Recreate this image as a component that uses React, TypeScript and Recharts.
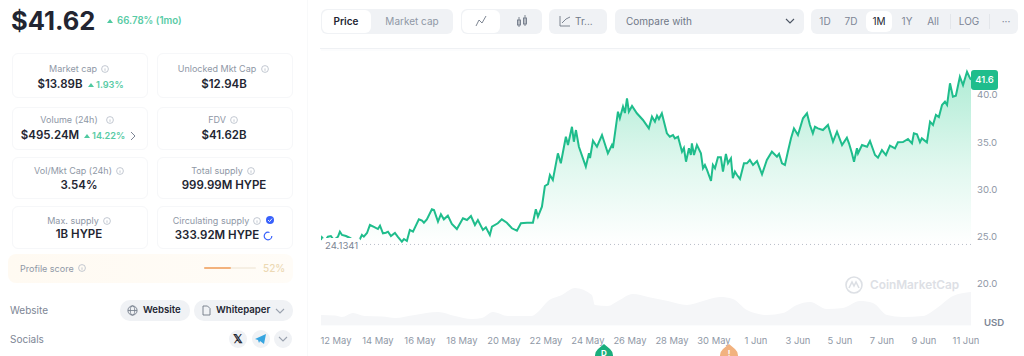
import React from "react";
import {
  Area,
  CartesianGrid,
  ComposedChart,
  ReferenceLine,
  XAxis,
  YAxis,
} from "recharts";

// days counted from 12 May
const priceDays = [
  -0.71, -0.67, -0.52, -0.38, -0.24, -0.1, 0.1, 0.19, 0.29, 0.48, 0.67, 0.9, 1.14, 1.24, 1.33, 1.48, 1.62, 1.81, 2.0,
  2.1, 2.24, 2.38, 2.48, 2.62, 2.81, 2.95, 3.14, 3.24, 3.38, 3.52, 3.67, 3.95, 4.1, 4.19, 4.33, 4.57, 4.67, 4.86, 5.0,
  5.14, 5.33, 5.52, 5.76, 6.05, 6.24, 6.43, 6.62, 6.76, 7.0, 7.14, 7.33, 7.43, 7.71, 7.9, 8.14, 8.38, 8.62, 8.81, 9.1,
  9.38, 9.52, 9.62, 9.81, 9.95, 10.1, 10.19, 10.33, 10.57, 10.71, 10.95, 11.05, 11.24, 11.33, 11.43, 11.57, 11.9, 12.05,
  12.1, 12.24, 12.43, 12.67, 12.95, 13.14, 13.19, 13.43, 13.52, 13.67, 13.76, 13.86, 13.95, 14.1, 14.33, 14.62, 14.9,
  15.05, 15.19, 15.29, 15.38, 15.52, 15.76, 15.9, 16.05, 16.14, 16.29, 16.48, 16.57, 16.67, 16.81, 16.9, 16.95, 17.05,
  17.19, 17.38, 17.48, 17.57, 17.67, 17.86, 17.95, 18.05, 18.19, 18.33, 18.43, 18.57, 18.67, 18.81, 18.9, 19.0, 19.1,
  19.24, 19.43, 19.57, 19.71, 19.86, 20.05, 20.29, 20.52, 20.76, 21.0, 21.1, 21.24, 21.38, 21.52, 21.67, 21.81, 22.0,
  22.24, 22.43, 22.57, 22.71, 22.81, 22.95, 23.19, 23.43, 23.67, 23.86, 24.1, 24.33, 24.43, 24.57, 24.67, 24.81, 24.86,
  25.05, 25.29, 25.43, 25.67, 25.81, 26.0, 26.19, 26.38, 26.62, 26.76, 27.0, 27.24, 27.43, 27.52, 27.67, 27.81, 27.9,
  28.14, 28.29, 28.43, 28.57, 28.71, 28.86, 29.0, 29.1, 29.24, 29.38, 29.52, 29.71, 29.86, 30.05, 30.19, 30.24,
];
const priceValues = [
  24.61, 24.89, 24.5, 24.96, 25.03, 24.6, 24.96, 25.49, 25.14, 25.03, 24.82, 24.5, 24.68, 25.14, 24.96, 25.35, 26.2,
  25.99, 25.77, 26.13, 25.32, 25.38, 25.49, 25.03, 25.35, 24.93, 24.43, 24.71, 24.5, 25.67, 25.49, 26.8, 26.66, 26.44,
  26.8, 27.87, 27.79, 26.55, 27.34, 26.8, 27.19, 26.31, 25.77, 26.91, 26.73, 27.15, 26.2, 26.73, 25.67, 25.95, 25.14,
  26.02, 26.38, 26.8, 26.44, 25.85, 25.59, 26.38, 26.44, 26.44, 27.87, 27.08, 28.14, 30.34, 30.55, 31.51, 30.98, 33.81,
  32.75, 35.57, 34.69, 36.63, 35.04, 36.28, 34.51, 32.39, 33.81, 33.31, 35.15, 34.51, 35.75, 33.81, 34.69, 34.37, 38.23,
  37.53, 38.76, 38.09, 39.65, 38.23, 38.83, 38.06, 37.35, 36.46, 37.7, 37.17, 37.8, 37.45, 38.06, 35.93, 35.57, 35.75,
  35.4, 35.57, 33.98, 34.37, 32.92, 34.34, 33.63, 34.87, 33.63, 34.69, 33.81, 32.22, 32.57, 32.04, 30.87, 32.57, 32.22,
  33.39, 33.39, 31.86, 33.74, 32.75, 33.28, 31.16, 31.86, 31.51, 31.08, 32.75, 32.75, 33.1, 32.57, 32.99, 31.58, 33.1,
  33.98, 33.45, 33.74, 32.75, 32.57, 33.98, 35.4, 36.46, 35.75, 37.53, 38.06, 36.82, 35.93, 36.63, 36.46, 36.28, 36.82,
  35.04, 36.1, 34.69, 35.47, 34.87, 33.81, 32.92, 34.34, 33.81, 34.69, 34.51, 35.12, 33.63, 33.34, 34.16, 33.63, 34.62,
  34.34, 34.98, 35.01, 35.33, 34.87, 35.93, 35.83, 34.98, 35.4, 34.98, 37.17, 36.82, 37.88, 37.66, 38.94, 39.29, 38.94,
  41.24, 39.82, 39.93, 41.94, 41.06, 42.47, 41.8, 41.62,
];
const volumeDays = [
  -0.71, -0.05, 0.29, 0.81, 1.38, 2.19, 2.81, 3.76, 4.86, 5.67, 6.48, 6.95, 7.48, 8.19, 9.33, 9.62, 10.1, 10.76, 11.38,
  12.19, 12.33, 12.95, 13.43, 14.14, 14.86, 15.81, 16.71, 17.48, 18.29, 18.9, 19.57, 20.52, 21.29, 21.95, 22.57, 23.38,
  24.14, 24.95, 25.57, 26.24, 27, 27.95, 28.62, 29.38, 30.24,
];
// millions of USD
const volumeValues = [
  150, 143, 120, 180, 135, 128, 105, 150, 195, 135, 90, 105, 195, 135, 135, 195, 360, 450, 555, 450, 300, 285, 360, 465,
  420, 360, 300, 360, 420, 390, 225, 150, 180, 300, 345, 240, 255, 360, 330, 150, 120, 135, 255, 435, 495,
];
const dateTicks = [0, 2, 4, 6, 8, 10, 12, 14, 16, 18, 20, 22, 24, 26, 28, 30];
const dateLabels = [
  "12 May", "14 May", "16 May", "18 May", "20 May", "22 May", "24 May", "26 May",
  "28 May", "30 May", "1 Jun", "3 Jun", "5 Jun", "7 Jun", "9 Jun", "11 Jun",
];
const priceTicks = [20, 25, 30, 35, 40];
const openPrice = 24.1341;

const stats = [
  { label: "Market cap", left: 12, top: 53, w: 136, h: 45 },
  { label: "Unlocked Mkt Cap", left: 157, top: 53, w: 136, h: 45 },
  { label: "Volume (24h)", left: 12, top: 107, w: 136, h: 43 },
  { label: "FDV", left: 157, top: 107, w: 136, h: 43 },
  { label: "Vol/Mkt Cap (24h)", left: 12, top: 157, w: 136, h: 42 },
  { label: "Total supply", left: 157, top: 157, w: 136, h: 42 },
  { label: "Max. supply", left: 12, top: 206, w: 136, h: 43 },
  { label: "Circulating supply", left: 157, top: 206, w: 136, h: 43 },
];

const priceData = priceDays.map((day, i) => ({ day, price: priceValues[i] }));
const volumeData = volumeDays.map((day, i) => ({ day, volume: volumeValues[i] }));

const dark = "#222531";
const gray = "#8f98a6";
const green = "#1fbd8c";
const pillBg = "#f0f2f5";

function Text({ x, y, size = 9, color = gray, weight = 400, align = "left", children }: any) {
  const shift = align === "center" ? "translate(-50%,-50%)" : "translateY(-50%)";
  return (
    <div style={{ position: "absolute", left: x, top: y, transform: shift, fontSize: size, color, fontWeight: weight, whiteSpace: "nowrap", lineHeight: 1 }}>
      {children}
    </div>
  );
}

function Box({ x, y, w, h, bg = pillBg, radius = 6, border }: any) {
  return <div style={{ position: "absolute", left: x, top: y, width: w, height: h, background: bg, borderRadius: radius, border, boxSizing: "border-box" }} />;
}

function Info({ x, y }: any) {
  return (
    <svg style={{ position: "absolute", left: x - 4, top: y - 4 }} width={8} height={8}>
      <circle cx={4} cy={4} r={3.4} fill="none" stroke="#b4bbc6" strokeWidth={0.8} />
      <line x1={4} y1={3.4} x2={4} y2={5.8} stroke="#b4bbc6" strokeWidth={0.8} />
    </svg>
  );
}

function Up({ x, y }: any) {
  return (
    <svg style={{ position: "absolute", left: x, top: y - 2 }} width={6} height={4}>
      <path d="M0 4 L3 0 L6 4 Z" fill="#4fc9a0" />
    </svg>
  );
}

function Chevron({ x, y, color = "#7d8695" }: any) {
  return (
    <svg style={{ position: "absolute", left: x - 5, top: y - 3 }} width={10} height={6}>
      <path d="M1 1 L5 5 L9 1" fill="none" stroke={color} strokeWidth={1.1} />
    </svg>
  );
}

function Pin({ x, color, mark }: any) {
  return (
    <svg style={{ position: "absolute", left: x - 10, top: 344 }} width={20} height={12}>
      <path d="M10 0 L16 5 A9 9 0 1 1 4 5 Z" fill={color} />
      <text x={10} y={11.5} textAnchor="middle" fontSize={8} fontWeight={700} fill="#fff">{mark}</text>
    </svg>
  );
}

function SidePanel() {
  return (
    <>
      <Text x={11} y={21} size={25.5} color={dark} weight={700}>$41.62</Text>
      <Up x={107} y={21} />
      <Text x={117} y={21} size={9.7} color="#58cba5" weight={600}>66.78% (1mo)</Text>

      {stats.map((s) => (
        <Box key={s.label} x={s.left} y={s.top} w={s.w} h={s.h} bg="#fff" border="1px solid #f6f7f9" />
      ))}
      <Text x={73} y={68} align="center">Market cap</Text>
      <Info x={105} y={69} />
      <Text x={60} y={85} size={11.5} color={dark} weight={600} align="center">$13.89B</Text>
      <Up x={88} y={85} />
      <Text x={96} y={85} size={9.2} color="#58cba5" weight={600}>1.93%</Text>

      <Text x={217} y={68} align="center">Unlocked Mkt Cap</Text>
      <Info x={265} y={69} />
      <Text x={224} y={85} size={11.5} color={dark} weight={600} align="center">$12.94B</Text>

      <Text x={69} y={119} align="center">Volume (24h)</Text>
      <Info x={110} y={120} />
      <Text x={50} y={136} size={11.5} color={dark} weight={600} align="center">$495.24M</Text>
      <Up x={84} y={136} />
      <Text x={92} y={136} size={9.2} color="#58cba5" weight={600}>14.22%</Text>
      <svg style={{ position: "absolute", left: 130, top: 131 }} width={6} height={10}>
        <path d="M1 1 L5 5 L1 9" fill="none" stroke="#7d8695" strokeWidth={1} />
      </svg>

      <Text x={217} y={119} align="center">FDV</Text>
      <Info x={234} y={120} />
      <Text x={224} y={136} size={11.5} color={dark} weight={600} align="center">$41.62B</Text>

      <Text x={73} y={170} align="center">Vol/Mkt Cap (24h)</Text>
      <Info x={120} y={171} />
      <Text x={79} y={186} size={11.5} color={dark} weight={600} align="center">3.54%</Text>

      <Text x={217} y={170} align="center">Total supply</Text>
      <Info x={251} y={171} />
      <Text x={224} y={186} size={11.5} color={dark} weight={600} align="center">999.99M HYPE</Text>

      <Text x={73} y={220} align="center">Max. supply</Text>
      <Info x={107} y={221} />
      <Text x={79} y={235} size={11.5} color={dark} weight={600} align="center">1B HYPE</Text>

      <Text x={211} y={220} align="center">Circulating supply</Text>
      <Info x={257} y={221} />
      <svg style={{ position: "absolute", left: 266, top: 216 }} width={8} height={8}>
        <circle cx={4} cy={4} r={4} fill="#3861fb" />
        <path d="M2 4 L3.6 5.6 L6 2.6" fill="none" stroke="#fff" strokeWidth={0.9} />
      </svg>
      <Text x={217} y={236} size={11.5} color={dark} weight={600} align="center">333.92M HYPE</Text>
      <svg style={{ position: "absolute", left: 263, top: 231 }} width={10} height={10}>
        <circle cx={5} cy={5} r={3.8} fill="none" stroke="#3861fb" strokeWidth={1.2} strokeDasharray="19 5" />
      </svg>

      <div style={{ position: "absolute", left: 8, top: 254, width: 285, height: 29, borderRadius: 8, background: "linear-gradient(90deg,#fffaf2,#fffcf7)" }} />
      <Text x={20} y={268}>Profile score</Text>
      <Info x={82} y={268} />
      <Box x={204} y={267} w={52} h={2} bg="#f6efe3" radius={1} />
      <Box x={204} y={267} w={27} h={2} bg="#f3b27c" radius={1} />
      <Text x={263} y={268} size={10} color="#ecd9b4" weight={500}>52%</Text>

      <Text x={10} y={310} size={10} color="#7d8695">Website</Text>
      <Box x={120} y={300} w={70} h={21} radius={10} />
      <svg style={{ position: "absolute", left: 127, top: 305 }} width={11} height={11}>
        <circle cx={5.5} cy={5.5} r={4.6} fill="none" stroke="#6f7887" strokeWidth={0.9} />
        <ellipse cx={5.5} cy={5.5} rx={2.2} ry={4.6} fill="none" stroke="#6f7887" strokeWidth={0.8} />
        <line x1={1} y1={5.5} x2={10} y2={5.5} stroke="#6f7887" strokeWidth={0.8} />
      </svg>
      <Text x={143} y={310} size={9.6} color={dark} weight={600}>Website</Text>
      <Box x={194} y={300} w={99} h={21} radius={10} />
      <svg style={{ position: "absolute", left: 202, top: 305 }} width={9} height={11}>
        <path d="M1 1 H5.5 L8 3.5 V10 H1 Z" fill="none" stroke="#6f7887" strokeWidth={0.9} />
      </svg>
      <Text x={216} y={310} size={9.6} color={dark} weight={600}>Whitepaper</Text>
      <Chevron x={280} y={311} color="#9aa2af" />

      <Text x={10} y={339} size={10} color="#7d8695">Socials</Text>
      <Box x={229} y={330} w={18} h={18} radius={9} />
      <Text x={238} y={339} size={12} color={dark} weight={700} align="center">𝕏</Text>
      <Box x={252} y={330} w={18} h={18} radius={9} />
      <svg style={{ position: "absolute", left: 255, top: 334 }} width={12} height={10}>
        <path d="M0 5 L11 0 L9 10 L5 7 L4 9 L3 6 Z" fill="#37a5e0" />
      </svg>
      <Box x={274} y={330} w={18} h={18} radius={9} />
      <Chevron x={283} y={339} color="#9aa2af" />
    </>
  );
}

function Toolbar() {
  return (
    <>
      <Box x={321} y={9} w={132} h={25} />
      <Box x={322} y={10} w={49} h={23} bg="#fff" />
      <Text x={346} y={21} align="center" size={10} color={dark} weight={600}>Price</Text>
      <Text x={412} y={21} align="center" size={10}>Market cap</Text>

      <Box x={461} y={9} w={81} h={25} />
      <Box x={462} y={10} w={38} h={23} bg="#fff" />
      <svg style={{ position: "absolute", left: 475, top: 15 }} width={12} height={12}>
        <path d="M1 11 L4 5 L7 8 L11 1" fill="none" stroke="#6f7887" strokeWidth={0.9} />
      </svg>
      <svg style={{ position: "absolute", left: 516, top: 15 }} width={12} height={12}>
        <rect x={1.5} y={5} width={3} height={5} fill="none" stroke="#6f7887" strokeWidth={0.9} />
        <rect x={7.5} y={3} width={3} height={6} fill="none" stroke="#6f7887" strokeWidth={0.9} />
        <path d="M3 2 V12 M9 0 V11" stroke="#6f7887" strokeWidth={0.9} />
      </svg>

      <Box x={549} y={9} w={58} h={25} />
      <svg style={{ position: "absolute", left: 559, top: 15 }} width={12} height={12}>
        <path d="M1 1 V11 H11 M3 8 L7 4 L11 2" fill="none" stroke="#6f7887" strokeWidth={0.9} />
      </svg>
      <Text x={575} y={21} size={10} color="#6f7887">Tr...</Text>

      <Box x={615} y={9} w={189} h={25} />
      <Text x={626} y={21} size={10} color="#6f7887">Compare with</Text>
      <Chevron x={790} y={21} color="#4c5563" />

      <Box x={811} y={9} w={207} h={25} />
      <Box x={866} y={11} w={26} h={21} bg="#fff" />
      {[["1D", 825], ["7D", 851], ["1M", 879], ["1Y", 907], ["All", 933], ["LOG", 969], ["···", 1006]].map(([t, x]) => (
        <Text key={t} x={x} y={21} align="center" size={10} color={t === "1M" ? dark : "#7d8695"}>{t}</Text>
      ))}
      <Box x={950} y={14} w={1} h={15} bg="#e3e6ea" radius={0} />
      <Box x={989} y={14} w={1} h={15} bg="#e3e6ea" radius={0} />
    </>
  );
}

function PriceChart() {
  return (
    <div style={{ position: "absolute", left: 0, top: 0 }}>
      <ComposedChart width={1024} height={356} margin={{ top: 50, right: 0, bottom: 0, left: 321 }}>
        <defs>
          <linearGradient id="priceFill" x1="0" y1="0" x2="0" y2="1">
            <stop offset="0%" stopColor="#16c784" stopOpacity={0.34} />
            <stop offset="55%" stopColor="#16c784" stopOpacity={0.13} />
            <stop offset="100%" stopColor="#16c784" stopOpacity={0} />
          </linearGradient>
        </defs>
        <CartesianGrid horizontal vertical={false} stroke="#f8f9fb" />
        <XAxis
          dataKey="day"
          type="number"
          domain={[-0.71, 30.24]}
          ticks={dateTicks}
          interval={0}
          height={31}
          tickFormatter={(d: number) => dateLabels[dateTicks.indexOf(d)]}
          tick={{ fill: gray, fontSize: 9.4 }}
          tickLine={false}
          axisLine={false}
          tickMargin={6}
          allowDataOverflow
        />
        <YAxis
          yAxisId="price"
          orientation="right"
          domain={[15.58, 44.78]}
          ticks={priceTicks}
          interval={0}
          width={53}
          tickFormatter={(v: number) => v.toFixed(1)}
          tick={{ fill: gray, fontSize: 9.6 }}
          tickLine={false}
          axisLine={false}
          tickMargin={0}
          allowDataOverflow
        />
        <YAxis yAxisId="volume" hide domain={[0, 4125]} allowDataOverflow />
        <Area
          yAxisId="volume"
          data={volumeData}
          dataKey="volume"
          type="monotone"
          stroke="none"
          fill="#f5f6f8"
          fillOpacity={1}
          dot={false}
          isAnimationActive={false}
        />
        <Area
          yAxisId="price"
          data={priceData}
          dataKey="price"
          type="linear"
          baseValue={openPrice}
          stroke={green}
          strokeWidth={2}
          fill="url(#priceFill)"
          fillOpacity={1}
          dot={false}
          isAnimationActive={false}
        />
        <ReferenceLine yAxisId="price" y={openPrice} stroke="#b8bec8" strokeDasharray="1 3" />
      </ComposedChart>
    </div>
  );
}

export default function App() {
  return (
    <div style={{ position: "absolute", left: 0, top: 0, width: 1024, height: 356, overflow: "hidden", background: "#fff", fontFamily: "Inter, sans-serif" }}>
      <Box x={307} y={0} w={1} h={356} bg="#f8f9fa" radius={0} />
      <PriceChart />
      <SidePanel />
      <Toolbar />
      <Box x={320} y={48} w={650} h={1} bg="#eff1f4" radius={0} />

      <Box x={322} y={238} w={38} h={14} bg="#fff" radius={2} />
      <Text x={325} y={246} size={9.6} color="#7d8695">{openPrice}</Text>

      <Box x={971} y={70} w={27} h={20} bg={green} radius={3} />
      <Text x={984.5} y={80} size={9.6} color="#fff" weight={500} align="center">41.6</Text>
      <Text x={984} y={323} size={9.6} color="#7d8695" weight={600}>USD</Text>

      <svg style={{ position: "absolute", left: 845, top: 276 }} width={18} height={18}>
        <circle cx={9} cy={9} r={8} fill="none" stroke="#dde0e5" strokeWidth={1.6} />
        <path d="M4 12 L7 6 L9 10 L11 6 L14 12" fill="none" stroke="#dde0e5" strokeWidth={1.6} />
      </svg>
      <Text x={870} y={286} size={11.8} color="#dde0e5" weight={600}>CoinMarketCap</Text>

      <Pin x={604} color="#1aae7c" mark="D" />
      <Pin x={729} color="#f2b27f" mark="!" />
    </div>
  );
}
